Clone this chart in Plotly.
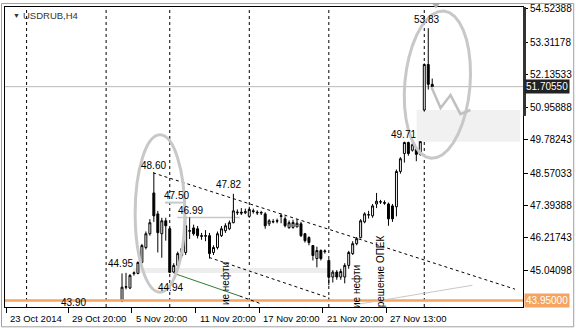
import math
import plotly.graph_objects as go

# ---------------- data ----------------
bar_index = list(range(29, 108))
opens = [43.93,44.43,44.40,44.92,44.93,45.33,45.87,46.37,47.85,47.09,
         46.37,46.84,46.55,44.98,45.22,45.58,45.69,46.46,46.58,46.55,
         46.30,46.28,46.30,45.69,45.87,46.30,46.48,46.55,46.77,47.13,
         47.15,47.13,47.00,47.20,47.15,47.12,47.09,46.73,46.80,46.84,
         47.00,46.91,46.59,46.60,46.62,46.73,46.37,46.23,45.94,45.47,
         45.76,45.72,45.40,44.80,44.98,44.80,44.80,45.22,45.65,46.01,
         46.23,46.80,47.05,47.02,47.45,47.52,47.50,47.45,47.38,47.35,
         48.63,49.28,49.68,49.40,49.45,49.25,50.86,52.51,51.79]
highs = [44.93,44.95,44.90,45.00,45.36,46.00,46.45,46.90,48.60,47.20,
         46.95,46.95,46.60,45.30,45.72,45.90,46.99,46.96,46.70,46.65,
         46.40,46.50,46.40,45.95,46.45,46.65,46.75,46.85,47.82,47.25,
         47.30,47.28,47.35,47.28,47.22,47.20,47.15,46.90,46.90,46.92,
         47.10,47.00,46.85,46.88,46.90,46.80,46.40,46.28,45.95,45.90,
         45.80,45.80,45.45,45.05,45.05,45.10,45.30,45.75,46.10,46.25,
         46.90,47.15,47.20,47.45,47.85,47.60,47.58,47.50,47.45,48.70,
         49.15,49.71,49.71,49.65,49.50,49.70,52.55,53.83,52.00]
lows = [43.89,44.35,44.36,44.85,44.90,45.30,45.80,46.30,46.80,45.69,
        45.50,46.12,44.94,44.94,45.15,45.50,45.60,46.18,46.30,46.20,
        46.15,46.10,45.47,45.60,45.80,46.25,46.40,46.50,46.75,47.05,
        47.05,47.08,46.95,47.10,47.05,47.05,46.55,46.65,46.75,46.75,
        46.75,46.60,46.55,46.55,46.60,46.25,46.05,45.95,45.40,45.15,
        45.40,45.65,44.50,44.60,44.70,44.70,44.57,45.10,45.60,45.95,
        46.20,46.75,46.92,46.95,47.30,47.45,47.42,46.66,46.80,47.00,
        48.55,48.95,49.20,49.35,49.00,49.20,50.80,51.60,51.60]
closes = [44.43,44.45,44.86,44.95,45.33,45.94,46.37,46.77,47.02,46.41,
          46.84,46.66,44.97,45.22,45.65,45.83,46.66,46.48,46.37,46.30,
          46.28,46.30,45.65,45.87,46.37,46.55,46.66,46.77,47.20,47.15,
          47.12,47.17,47.25,47.18,47.13,47.14,46.66,46.84,46.81,46.83,
          47.02,46.66,46.77,46.78,46.75,46.30,46.12,46.05,45.58,45.76,
          45.47,45.74,44.79,44.98,44.80,45.00,45.22,45.69,46.01,46.19,
          46.84,47.09,47.06,47.38,47.55,47.53,47.48,46.91,46.91,48.63,
          49.09,49.68,49.28,49.60,49.25,49.71,52.51,51.79,51.7055]

price_ticks = [54.52388, 53.31178, 52.13533, 50.95888, 49.78243,
               48.57033, 47.39388, 46.21743, 45.04098]
time_tick_bars = [-0.15, 15.5, 31.5, 47.5, 63.5, 79.5, 95.5]
time_tick_labels = ["23 Oct 2014", "29 Oct 20:00", "5 Nov 20:00", "11 Nov 20:00",
                    "17 Nov 20:00", "21 Nov 20:00", "27 Nov 13:00"]

support_level = 43.95
bid_price = 51.7055
event_bars = [5, 25, 41, 61, 81, 105]

price_labels = [("48.60", 36.8, 48.85), ("47.50", 42.8, 47.74), ("46.99", 46.1, 47.20),
                ("47.82", 55.8, 48.17), ("44.95", 28.6, 45.29), ("44.94", 41.1, 44.43),
                ("49.71", 99.8, 49.96), ("53.83", 105.6, 54.13), ("43.90", 16.8, 43.89)]

X_RANGE = [-0.425, 129.825]
Y_RANGE = [43.712, 54.596]

FONT = "Liberation Sans"

fig = go.Figure()
fig.add_trace(go.Candlestick(
    x=bar_index, open=opens, high=highs, low=lows, close=closes,
    increasing=dict(line=dict(color="black", width=1), fillcolor="white"),
    decreasing=dict(line=dict(color="black", width=1), fillcolor="black"),
    whiskerwidth=0, showlegend=False, hoverinfo="skip"))

shapes = []
# gap rectangle & grey band
shapes.append(dict(type="rect", xref="x", yref="y", x0=103.1, x1=129.1, y0=49.71, y1=50.86,
                   fillcolor="#f1f1f1", line=dict(width=0), layer="below"))
shapes.append(dict(type="rect", xref="x", yref="y", x0=31.8, x1=81.1, y0=44.95, y1=45.13,
                   fillcolor="#ededed", line=dict(width=0), layer="below"))
# bid line
shapes.append(dict(type="line", xref="paper", yref="y", x0=0, x1=1, y0=bid_price, y1=bid_price,
                   line=dict(color="#b8b8b8", width=1), layer="below"))
# support line
shapes.append(dict(type="line", xref="paper", yref="y", x0=0, x1=1, y0=support_level, y1=support_level,
                   line=dict(color="#f4a460", width=2.5), layer="above"))
# event vertical lines
for b in event_bars:
    shapes.append(dict(type="line", xref="x", yref="paper", x0=b, x1=b, y0=0, y1=1,
                       line=dict(color="black", width=1, dash="3px,3px"), layer="below"))
# trend channel
shapes.append(dict(type="line", xref="x", yref="y", x0=36.8, y0=48.58, x1=127.8, y1=44.36,
                   line=dict(color="black", width=1, dash="3px,3px")))
shapes.append(dict(type="line", xref="x", yref="y", x0=50.9, y0=45.51, x1=81.1, y1=44.04,
                   line=dict(color="black", width=1, dash="3px,3px")))
# green line + continuation
shapes.append(dict(type="line", xref="x", yref="y", x0=42.1, y0=44.93, x1=58.6, y1=44.11,
                   line=dict(color="#2e7d32", width=1)))
shapes.append(dict(type="line", xref="x", yref="y", x0=58.6, y0=44.11, x1=64.1, y1=43.82,
                   line=dict(color="black", width=1, dash="3px,3px")))
# grey helper lines
shapes.append(dict(type="line", xref="x", yref="y", x0=39.8, x1=44.3, y0=47.50, y1=47.50,
                   line=dict(color="#c8c8c8", width=2)))
shapes.append(dict(type="line", xref="x", yref="y", x0=42.9, x1=58.6, y0=46.96, y1=46.96,
                   line=dict(color="#c8c8c8", width=1.5), layer="below"))
shapes.append(dict(type="line", xref="x", yref="y", x0=88.6, x1=117.1, y0=43.82, y1=44.50,
                   line=dict(color="#c8c8c8", width=1)))
# ellipses
shapes.append(dict(type="circle", xref="x", yref="y", x0=32.3, x1=44.8, y0=44.25, y1=49.96,
                   line=dict(color="#c8c8c8", width=3)))
# tilted ellipse around the spike (centre bar/price, half-widths in bars/price units)
ecx, ecy, ea, eb, tilt = 108.3, 51.78, 8.2, 2.68, math.radians(5)
pts = []
for t in range(0, 361, 10):
    th = math.radians(t)
    dx_px = ea * 4 * math.cos(th)
    dy_px = eb * 27.84 * math.sin(th)
    rx = dx_px * math.cos(tilt) + dy_px * math.sin(tilt)
    ry = -dx_px * math.sin(tilt) + dy_px * math.cos(tilt)
    pts.append((ecx + rx / 4, ecy + ry / 27.84))
shapes.append(dict(type="path", xref="x", yref="y",
                   path="M " + " L ".join(f"{a:.3f},{b:.3f}" for a, b in pts) + " Z",
                   line=dict(color="#c8c8c8", width=3)))
# zigzag
zz_x = [106.8, 109.1, 111.6, 114.1, 116.6]
zz_y = [51.69, 50.93, 51.40, 50.71, 50.86]
path = "M " + " L ".join(f"{a},{b}" for a, b in zip(zz_x, zz_y))
shapes.append(dict(type="path", xref="x", yref="y", path=path,
                   line=dict(color="#c0c0c0", width=2.5)))
# right axis dark bar
shapes.append(dict(type="rect", xref="paper", yref="paper", x0=1.0, x1=1.0058, y0=0.637, y1=1.0,
                   fillcolor="#333333", line=dict(width=0)))
# chart shift triangle
shapes.append(dict(type="path", xref="paper", yref="paper",
                   path="M 0.824,1.013 L 0.840,1.013 L 0.832,0.995 Z",
                   fillcolor="#b0b0b0", line=dict(width=0)))
# outer window border
shapes.append(dict(type="rect", xref="paper", yref="paper", x0=-0.0067, x1=1.0979, y0=-0.066, y1=1.0115,
                   line=dict(color="#a0a0a0", width=1)))

annotations = []
for txt, bx, py in price_labels:
    annotations.append(dict(x=bx, y=py, xref="x", yref="y", text=txt, showarrow=False,
                            font=dict(family=FONT, size=10, color="black")))
for tb, tl in zip(time_tick_bars, time_tick_labels):
    annotations.append(dict(x=tb, y=-0.012, xref="x", yref="paper", text=tl, showarrow=False,
                            xanchor="left", yanchor="top", xshift=2,
                            font=dict(family=FONT, size=9.5, color="black")))
# rotated event texts
for txt, bx, ptop in [("ие нефти", 55.0, 45.41), ("ие нефти", 87.9, 45.3), ("решение ОПЕК", 94.0, 46.37)]:
    annotations.append(dict(x=bx, y=ptop, xref="x", yref="y", text=txt, showarrow=False,
                            textangle=-90, xanchor="center", yanchor="top",
                            font=dict(family=FONT, size=10, color="black")))
# axis highlight labels
annotations.append(dict(x=1, y=bid_price, xref="paper", yref="y", text="51.70550", showarrow=False,
                        xanchor="left", xshift=1, bgcolor="#222222", borderpad=1,
                        font=dict(family=FONT, size=10, color="white")))
annotations.append(dict(x=1, y=support_level, xref="paper", yref="y", text="43.95000", showarrow=False,
                        xanchor="left", xshift=1, bgcolor="#f4a460", borderpad=1,
                        font=dict(family=FONT, size=10, color="white")))
# title
annotations.append(dict(x=0.012, y=0.972, xref="paper", yref="paper", text="▼", showarrow=False,
                        xanchor="left", yanchor="middle", font=dict(family=FONT, size=7, color="#333333")))
annotations.append(dict(x=0.031, y=0.972, xref="paper", yref="paper", text="USDRUB,H4", showarrow=False,
                        xanchor="left", yanchor="middle", font=dict(family=FONT, size=9.5, color="#333333")))

fig.update_layout(
    width=576, height=329,
    margin=dict(l=4, r=51, t=4, b=22),
    paper_bgcolor="white", plot_bgcolor="white",
    shapes=shapes, annotations=annotations,
    showlegend=False,
    xaxis=dict(range=X_RANGE, rangeslider=dict(visible=False), showgrid=False, zeroline=False,
               tickvals=time_tick_bars, ticktext=[""] * len(time_tick_bars),
               ticks="outside", ticklen=5, tickcolor="black",
               showline=True, linecolor="black", linewidth=1, mirror=True),
    yaxis=dict(range=Y_RANGE, side="right", showgrid=False, zeroline=False,
               tickvals=price_ticks, ticktext=[f"{v:.5f}" for v in price_ticks],
               ticks="outside", ticklen=4, tickcolor="black",
               tickfont=dict(family=FONT, size=10, color="black"),
               showline=True, linecolor="black", linewidth=1, mirror=True),
)

fig.write_html("out.html")
